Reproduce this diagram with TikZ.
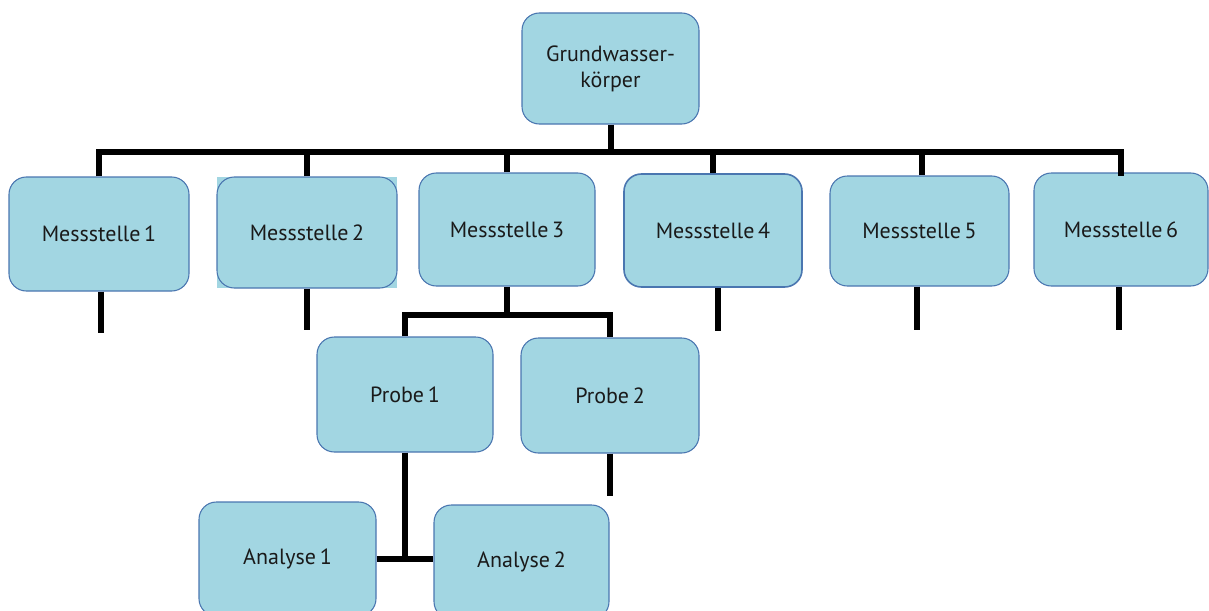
\documentclass[tikz,border=0pt]{standalone}
\usepackage{fontspec}
\setmainfont{PT Sans}
\definecolor{boxfill}{HTML}{A2D6E2}
\definecolor{boxline}{HTML}{4A76B0}
\definecolor{txt}{HTML}{1A1A1A}
\tikzset{
  unit/.style={rounded corners=13pt, fill=boxfill, draw=boxline, line width=0.8pt,
    text=txt, font=\fontsize{16.5}{19.5}\selectfont, align=center, inner sep=0pt},
  conn/.style={line width=4.5pt, line join=miter, line cap=butt},
}
\begin{document}
\begin{tikzpicture}[x=0.75pt, y=-0.75pt]
\useasboundingbox (0,0) rectangle (1209,610);
\clip (0,0) rectangle (1209,610);

% top level
\node[unit, minimum width=132.75pt, minimum height=83.25pt] (g) at (610.5,68.5) {Grundwasser-\\körper};

% measuring points
\fill[boxfill] (217,177) rectangle (397,288);
\node[unit, minimum width=135pt, minimum height=85.5pt] (m1) at (99,234) {Messstelle\,1};
\node[unit, minimum width=135pt, minimum height=83.25pt] (m2) at (307,232.5) {Messstelle\,2};
\node[unit, minimum width=132pt, minimum height=84.75pt] (m3) at (507,229.5) {Messstelle\,3};
\node[unit, minimum width=133.5pt, minimum height=84.75pt, line width=1.2pt] (m4) at (713,230.5) {Messstelle\,4};
\node[unit, minimum width=134.25pt, minimum height=82.5pt] (m5) at (919.5,231) {Messstelle\,5};
\node[unit, minimum width=130.5pt, minimum height=84.75pt] (m6) at (1121,229.5) {Messstelle\,6};

% samples
\node[unit, minimum width=132pt, minimum height=86.25pt] (p1) at (405,394.5) {Probe\,1};
\node[unit, minimum width=133.5pt, minimum height=86.25pt] (p2) at (610,395.5) {Probe\,2};

% analyses
\node[unit, minimum width=132.75pt, minimum height=85.5pt] (a1) at (287.5,559) {Analyse\,1};
\node[unit, minimum width=131.25pt, minimum height=85.5pt] (a2) at (521.5,562) {Analyse\,2};

% bus levels and free stem ends
\coordinate (bus) at (0,152);
\coordinate (pbus) at (0,315);
\coordinate (e1) at (101,333);
\coordinate (e2) at (307,330);
\coordinate (e4) at (718,331);
\coordinate (e5) at (917,330);
\coordinate (e6) at (1119,330);
\coordinate (ep2) at (610,496);

% connectors
\draw[conn] (g.south) -- (g.south |- bus);
\draw[conn] (m1.north) -- (m1.north |- bus) -- (m6.north |- bus) -- ([yshift=-3pt]m6.north);
\draw[conn] (m2.north) -- (m2.north |- bus);
\draw[conn] (m3.north) -- (m3.north |- bus);
\draw[conn] (m4.north) -- (m4.north |- bus);
\draw[conn] ([xshift=2pt]m5.north) -- ([xshift=2pt]m5.north |- bus);

\draw[conn] (m1.south -| e1) -- (e1);
\draw[conn] (m2.south) -- (e2);
\draw[conn] (m4.south -| e4) -- (e4);
\draw[conn] (m5.south -| e5) -- (e5);
\draw[conn] (m6.south -| e6) -- (e6);

\draw[conn] (m3.south) -- (m3.south |- pbus);
\draw[conn] (p1.north) -- (p1.north |- pbus) -- (p2.north |- pbus) -- (p2.north);
\draw[conn] (p2.south) -- (ep2);

\draw[conn] (p1.south) -- (p1.south |- a1.east);
\draw[conn] (a1.east) -- (a1.east -| a2.west);
\end{tikzpicture}
\end{document}
